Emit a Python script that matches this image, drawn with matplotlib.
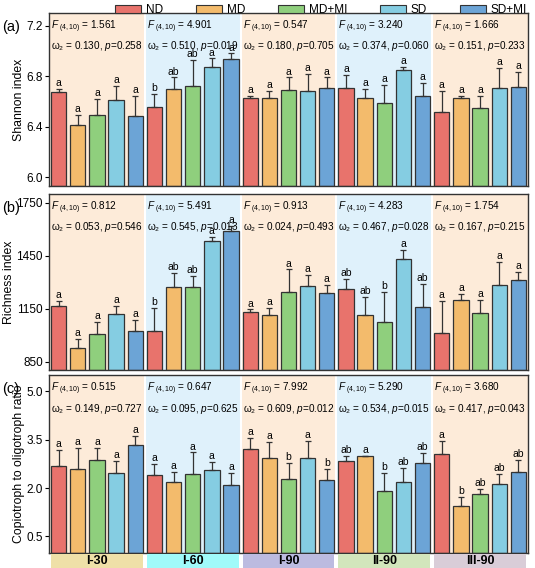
import matplotlib
matplotlib.use("Agg")
import matplotlib.pyplot as plt
import numpy as np
from matplotlib.patches import Patch

plt.rcParams['font.family'] = ['Liberation Sans', 'DejaVu Sans']
plt.rcParams['mathtext.fontset'] = 'custom'
plt.rcParams['mathtext.it'] = 'Liberation Sans:italic'
plt.rcParams['mathtext.rm'] = 'Liberation Sans'

treatments = ["ND", "MD", "MD+MI", "SD", "SD+MI"]
groups = ["I-30", "I-60", "I-90", "II-90", "III-90"]

shannon_mean = [[6.677, 6.417, 6.49, 6.61, 6.485],
                [6.552, 6.70, 6.72, 6.87, 6.935],
                [6.63, 6.63, 6.69, 6.685, 6.71],
                [6.71, 6.625, 6.59, 6.845, 6.645],
                [6.517, 6.625, 6.55, 6.71, 6.715]]
shannon_top = [[6.70, 6.495, 6.62, 6.72, 6.64],
               [6.66, 6.79, 6.93, 6.94, 6.98],
               [6.64, 6.68, 6.79, 6.82, 6.79],
               [6.81, 6.70, 6.73, 6.875, 6.745],
               [6.68, 6.64, 6.645, 6.867, 6.83]]
shannon_letters = [["a"]*5, ["b", "ab", "ab", "a", "a"], ["a"]*5, ["a"]*5, ["a"]*5]

rich_mean = [[1165, 929, 1005, 1121, 1022],
             [1026, 1274, 1274, 1535, 1591],
             [1131, 1113, 1243, 1280, 1239],
             [1262, 1115, 1073, 1433, 1158],
             [1013, 1200, 1127, 1284, 1315]]
rich_top = [[1195, 980, 1077, 1167, 1084],
            [1152, 1355, 1336, 1558, 1622],
            [1146, 1154, 1373, 1344, 1284],
            [1318, 1216, 1247, 1481, 1289],
            [1195, 1235, 1202, 1415, 1361]]
rich_letters = [["a"]*5, ["b", "ab", "ab", "a", "a"], ["a"]*5,
                ["ab", "ab", "b", "a", "ab"], ["a"]*5]

ratio_mean = [[2.67, 2.60, 2.88, 2.46, 3.33],
              [2.40, 2.18, 2.43, 2.55, 2.08],
              [3.21, 2.94, 2.28, 2.92, 2.25],
              [2.84, 2.98, 1.90, 2.19, 2.78],
              [3.04, 1.45, 1.82, 2.13, 2.50]]
ratio_top = [[3.19, 3.23, 3.25, 2.83, 3.62],
             [2.75, 2.50, 3.10, 2.82, 2.46],
             [3.54, 3.44, 2.78, 3.46, 2.58],
             [2.98, 3.00, 2.48, 2.62, 3.09],
             [3.45, 1.72, 1.97, 2.44, 2.88]]
ratio_letters = [["a"]*5, ["a"]*5, ["a", "a", "b", "a", "b"],
                 ["ab", "a", "b", "ab", "ab"], ["a", "b", "ab", "ab", "ab"]]

F_a = ["1.561", "4.901", "0.547", "3.240", "1.666"]
w_a = ["0.130", "0.510", "0.180", "0.374", "0.151"]
p_a = ["0.258", "0.019", "0.705", "0.060", "0.233"]
F_b = ["0.812", "5.491", "0.913", "4.283", "1.754"]
w_b = ["0.053", "0.545", "0.024", "0.467", "0.167"]
p_b = ["0.546", "0.013", "0.493", "0.028", "0.215"]
F_c = ["0.515", "0.647", "7.992", "5.290", "3.680"]
w_c = ["0.149", "0.095", "0.609", "0.534", "0.417"]
p_c = ["0.727", "0.625", "0.012", "0.015", "0.043"]

colors = ["#e8736c", "#f3bb6c", "#8fcf7d", "#85cde2", "#6ca4d6"]
bg = ["#fdebd9", "#dff1fb", "#fdebd9", "#dff1fb", "#fdebd9"]
strip_colors = ["#efe0a8", "#a0fafa", "#bcbbe0", "#d2e6bc", "#d9cdd8"]

fig = plt.figure(figsize=(5.35, 5.68), dpi=100)
L, W = 49/535, 479/535
specs = [
    (1-186/568, 173/568, shannon_mean, shannon_top, shannon_letters, F_a, w_a, p_a,
     (5.93, 7.30), [6.0, 6.4, 6.8, 7.2], ["6.0", "6.4", "6.8", "7.2"], "Shannon index", "(a)"),
    (1-370/568, 176/568, rich_mean, rich_top, rich_letters, F_b, w_b, p_b,
     (802, 1801), [850, 1150, 1450, 1750], ["850", "1150", "1450", "1750"], "Richness index", "(b)"),
    (1-552.6/568, 177.6/568, ratio_mean, ratio_top, ratio_letters, F_c, w_c, p_c,
     (0.0, 5.5), [0.5, 2.0, 3.5, 5.0], ["0.5", "2.0", "3.5", "5.0"], "Copiotroph to oligotroph ratio", "(c)"),
]
for (b, h, mean, top, letters, F, w, p, ylim, yt, ytl, ylab, tag) in specs:
    ax = fig.add_axes([L, b, W, h])
    ax.set_xlim(-0.5, 24.5)
    ax.set_ylim(*ylim)
    rng = ylim[1]-ylim[0]
    for g in range(5):
        ax.axvspan(g*5-0.5, g*5+4.5, color=bg[g], zorder=0, lw=0)
        if g > 0:
            ax.axvline(g*5-0.5, color="white", lw=1.5, zorder=0.5)
        for i in range(5):
            x = g*5+i
            m = mean[g][i]; t = top[g][i]
            ax.bar(x, m-ylim[0], bottom=ylim[0], width=0.8, color=colors[i],
                   edgecolor="#333333", lw=0.9, zorder=2)
            ax.errorbar(x, m, yerr=[[0], [t-m]], fmt="none", ecolor="#333333",
                        elinewidth=0.9, capsize=2.5, capthick=0.9, zorder=3)
            ax.text(x, t+rng*0.005, letters[g][i], ha="center", va="bottom", fontsize=7.5, zorder=4)
        ax.text(g*5-0.4, ylim[1]-rng*0.03, r"$F_{\ (4,10)}$" + f" = {F[g]}",
                ha="left", va="top", fontsize=7.2)
        ax.text(g*5-0.4, ylim[1]-rng*0.15, "ω\u2082" + f" = {w[g]}, " + r"$p$" + f"={p[g]}",
                ha="left", va="top", fontsize=7.2)
    ax.set_xticks([])
    ax.set_yticks(yt)
    ax.set_yticklabels(ytl, fontsize=8.5)
    ax.tick_params(axis="y", pad=1.5, length=3)
    ax.set_ylabel(ylab, fontsize=8.8, labelpad=1)
    for s in ax.spines.values():
        s.set_linewidth(1.0); s.set_color("#333333")
    fig.text(0.004, b+h-0.025, tag, fontsize=10.5, va="center")

# group strip
sax = fig.add_axes([L, 0.0, W, 14/568])
sax.set_xlim(-0.5, 24.5); sax.set_ylim(0, 1); sax.axis("off")
for g in range(5):
    sax.axvspan(g*5-0.4, g*5+4.4, color=strip_colors[g], lw=0)
    sax.text(g*5+2, 0.5, groups[g], ha="center", va="center", fontsize=9, fontweight="bold")

handles = [Patch(facecolor=c, edgecolor="#333333", lw=0.8) for c in colors]
fig.legend(handles, treatments, loc="upper center", bbox_to_anchor=(0.6, 1.012), ncol=5,
           frameon=False, fontsize=8.5, handlelength=2.2, handleheight=0.7,
           columnspacing=2.8, handletextpad=0.4)
fig.savefig("out.png", dpi=100)
